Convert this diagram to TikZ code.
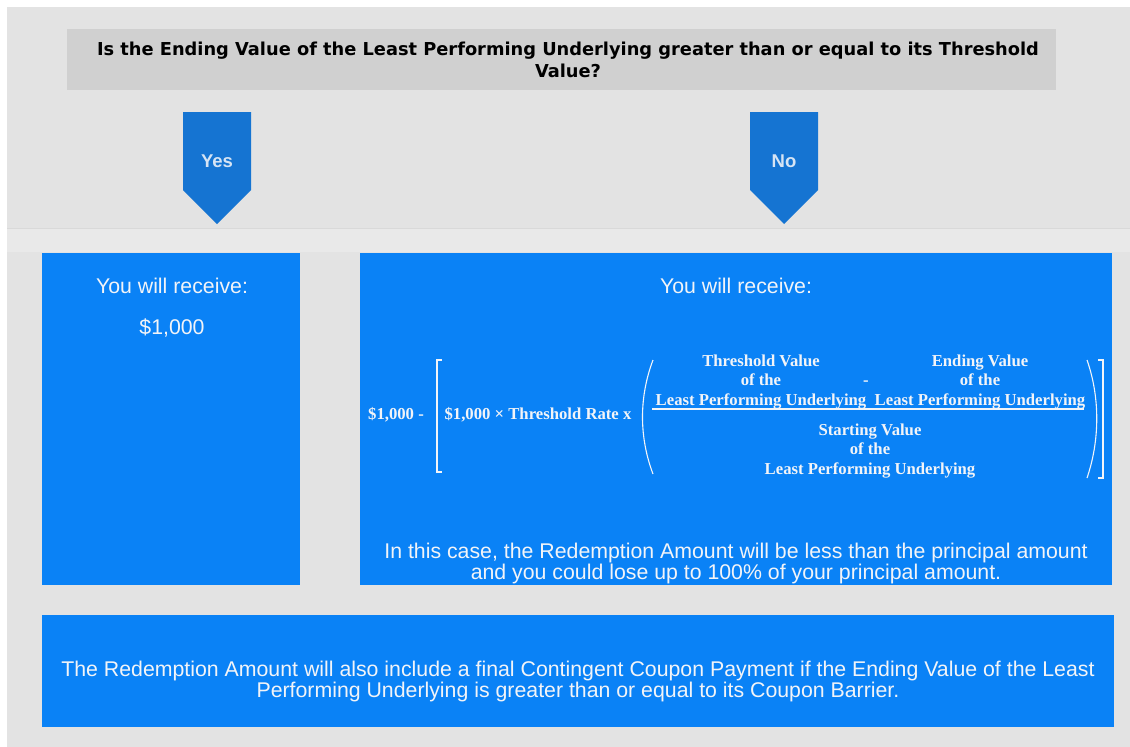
\documentclass[tikz,border=0pt]{standalone}
\usepackage{fontspec}
\setmainfont{Liberation Sans}
\newfontfamily\calcfont{Liberation Serif}
\newfontfamily\askfont{DejaVu Sans}
\definecolor{bggray}{HTML}{E3E3E3}
\definecolor{bandgray}{HTML}{E9E9E9}
\definecolor{linegray}{HTML}{D9D9D9}
\definecolor{bargray}{HTML}{D0D0D0}
\definecolor{boxblue}{HTML}{0A82F6}
\definecolor{arrowblue}{HTML}{1574D2}
\definecolor{boxtext}{HTML}{F2F4F8}
\definecolor{arrowtext}{HTML}{D6E4F4}

\begin{document}
\begin{tikzpicture}
  [x=1pt,y=-1pt,every node/.style={inner sep=0pt,text=boxtext,align=center},
   box/.style={rectangle,fill=boxblue,anchor=north west},
   sans/.style={font=\fontsize{21.3}{21}\selectfont},
   calc/.style={font=\calcfont\bfseries\fontsize{16.7}{19.5}\selectfont}]
  \useasboundingbox (0,0) rectangle (1130,747);
  \fill[white] (0,0) rectangle (1130,747);
  \fill[bggray] (7,7) rectangle (1130,747);
  \fill[bandgray] (7,228) rectangle (1130,252);
  \draw[linegray] (7,228) -- (1130,228);

  \node[rectangle,fill=bargray,anchor=north west,minimum width=989pt,minimum height=61pt] (bar) at (67,29) {};
  \node[text=black,font=\askfont\bfseries\fontsize{17.8}{22}\selectfont] (question) at (568,60)
    {Is the Ending Value of the Least Performing Underlying greater than or equal to its Threshold\\Value?};

  \foreach \x/\ans in {217/Yes,784/No}{
    \fill[arrowblue] (\x-34,112) -- (\x+34,112) -- (\x+34,190) -- (\x,224) -- (\x-34,190) -- cycle;
    \node[text=arrowtext,font=\bfseries\fontsize{18.5}{20}\selectfont] (\ans) at (\x,161) {\ans};
  }

  \node[box,minimum width=258pt,minimum height=332pt] (yesbox) at (42,253) {};
  \node[box,minimum width=752pt,minimum height=332pt] (nobox) at (360,253) {};
  \node[box,minimum width=1072pt,minimum height=112pt] (couponbox) at (42,615) {};

  \node[sans] (yesrecv) at (172,286) {You will receive:};
  \node[sans] (yesamt) at (172,328) {\$1,000};
  \node[sans] (norecv) at (736,286) {You will receive:};

  \node[calc] (principal) at (396,415) {\$1,000 -};
  \node[calc] (rate) at (538,415) {\$1,000 × Threshold Rate x};
  \node[calc] (thresh) at (761,382) {Threshold Value\\of the\\Least Performing Underlying};
  \node[calc] (minus) at (866,383) {-};
  \node[calc] (ending) at (980,382) {Ending Value\\of the\\Least Performing Underlying};
  \node[calc] (starting) at (870,451) {Starting Value\\of the\\Least Performing Underlying};
  \draw[boxtext,line width=1.2pt] (652,409) -- (1084,409);
  \draw[boxtext,line width=1.3pt] (442,360) -- (437,360) -- (437,472) -- (442,472);
  \draw[boxtext,line width=1.1pt] (653,360) .. controls (639,397) and (639,437) .. (653,474);
  \draw[boxtext,line width=1.1pt] (1087,360) .. controls (1100,397) and (1100,440) .. (1087,478);
  \draw[boxtext,line width=1.3pt] (1098,360) -- (1103,360) -- (1103,478) -- (1098,478);

  \node[sans] (lossnote) at (736,563)
    {In this case, the Redemption Amount will be less than the principal amount\\and you could lose up to 100\% of your principal amount.};
  \node[sans] (couponnote) at (578,681)
    {The Redemption Amount will also include a final Contingent Coupon Payment if the Ending Value of the Least\\Performing Underlying is greater than or equal to its Coupon Barrier.};

\end{tikzpicture}
\end{document}
